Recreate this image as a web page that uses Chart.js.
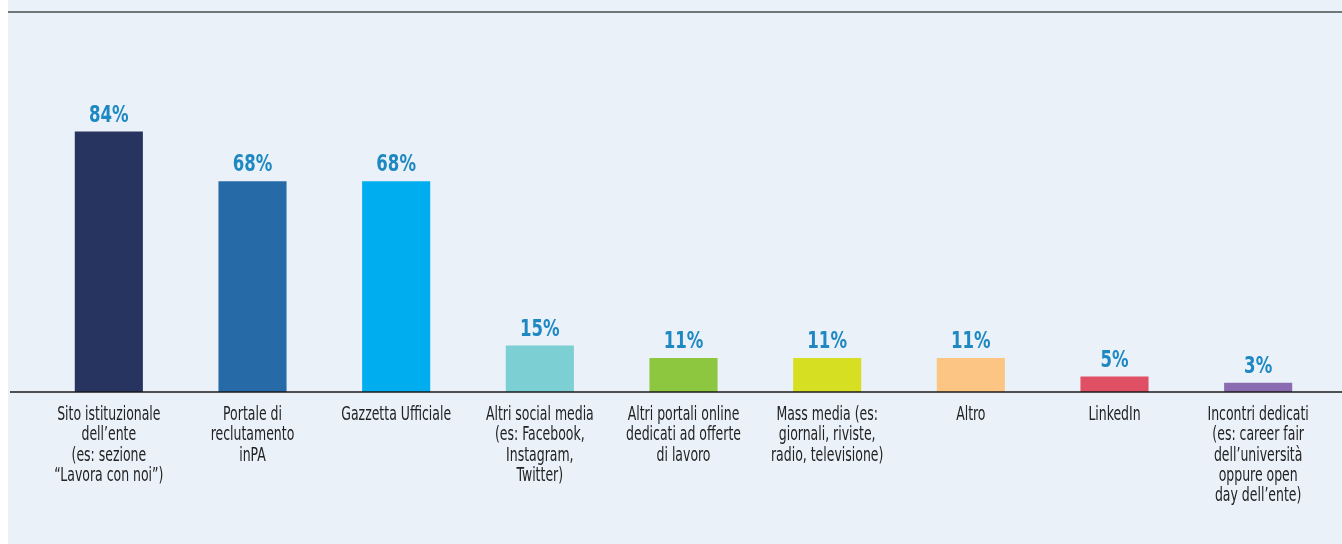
<!doctype html>
<html lang="it">
<head>
<meta charset="utf-8">
<title>Canali di reclutamento</title>
<script src="https://cdn.jsdelivr.net/npm/chart.js"></script>
<style>
  html, body { margin: 0; padding: 0; background: #ffffff; }
  #wrap { width: 1342px; height: 544px; position: relative; }
</style>
</head>
<body>
<div id="wrap"><canvas id="canali"></canvas></div>
<script>
// categorie (etichette su più righe)
var categorie = [
  ['Sito istituzionale', 'dell\u2019ente', '(es: sezione', '\u201cLavora con noi\u201d)'],
  ['Portale di', 'reclutamento', 'inPA'],
  ['Gazzetta Ufficiale'],
  ['Altri social media', '(es: Facebook,', 'Instagram,', 'Twitter)'],
  ['Altri portali online', 'dedicati ad offerte', 'di lavoro'],
  ['Mass media (es:', 'giornali, riviste,', 'radio, televisione)'],
  ['Altro'],
  ['LinkedIn'],
  ['Incontri dedicati', '(es: career fair', 'dell\u2019universit\u00e0', 'oppure open', 'day dell\u2019ente)']
];
var percentuali = [84, 68, 68, 15, 11, 11, 11, 5, 3];
var colori = ['#27345f', '#266ba8', '#00aeef', '#7ccfd2', '#8dc63f', '#d7df23', '#fdc583', '#e05064', '#8a6bb1'];

var fontTesto = "'DejaVu Sans Condensed', 'Liberation Sans Narrow', sans-serif";

// scrive testo stretto in orizzontale (carattere condensato)
function testoStretto(c, testo, x, y, stretta) {
  c.save();
  c.translate(x, y);
  c.scale(stretta, 1);
  c.fillText(testo, 0, 0);
  c.restore();
}

// sfondo, riga in alto e linea di base
var cornice = {
  id: 'cornice',
  beforeDraw: function (chart) {
    var c = chart.ctx;
    c.save();
    c.fillStyle = '#eaf1f9';
    c.fillRect(8, 0, chart.width - 8, chart.height);
    c.fillStyle = '#6f7878';
    c.fillRect(8, 11, chart.width - 8, 2);
    c.restore();
  },
  afterDatasetsDraw: function (chart) {
    var c = chart.ctx;
    var y0 = chart.scales.y.getPixelForValue(0);
    c.save();
    c.strokeStyle = '#1a1a1a';
    c.lineWidth = 1.5;
    c.beginPath();
    c.moveTo(10, y0);
    c.lineTo(chart.width, y0);
    c.stroke();
    c.restore();
  }
};

// valori sopra le barre ed etichette delle categorie
var testi = {
  id: 'testi',
  afterDatasetsDraw: function (chart) {
    var c = chart.ctx;
    var meta = chart.getDatasetMeta(0);
    var asseX = chart.scales.x;
    var y0 = chart.scales.y.getPixelForValue(0);
    c.save();
    c.textAlign = 'center';
    c.textBaseline = 'alphabetic';

    c.fillStyle = '#1e88c2';
    c.font = 'bold 23px ' + fontTesto;
    meta.data.forEach(function (bar, i) {
      testoStretto(c, percentuali[i] + '%', bar.x, bar.y - 10, 0.8);
    });

    c.fillStyle = '#222222';
    c.font = '19px ' + fontTesto;
    categorie.forEach(function (righe, i) {
      var x = asseX.getPixelForTick(i);
      righe.forEach(function (riga, k) {
        testoStretto(c, riga, x, y0 + 28 + k * 20.3, 0.73);
      });
    });
    c.restore();
  }
};

new Chart(document.getElementById('canali'), {
  type: 'bar',
  data: {
    labels: categorie,
    datasets: [{
      data: percentuali,
      backgroundColor: colori,
      borderWidth: 0,
      barPercentage: 0.474,
      categoryPercentage: 1
    }]
  },
  options: {
    responsive: true,
    maintainAspectRatio: false,
    animation: false,
    layout: { padding: { left: 37, right: 12, top: 82, bottom: 0 } },
    plugins: {
      legend: { display: false },
      tooltip: { enabled: false }
    },
    scales: {
      y: { display: false, min: 0, max: 100 },
      x: {
        grid: { display: false, drawTicks: false },
        border: { display: false },
        ticks: { display: false },
        afterFit: function (scale) { scale.height = 152; }
      }
    }
  },
  plugins: [cornice, testi]
});
</script>
</body>
</html>
